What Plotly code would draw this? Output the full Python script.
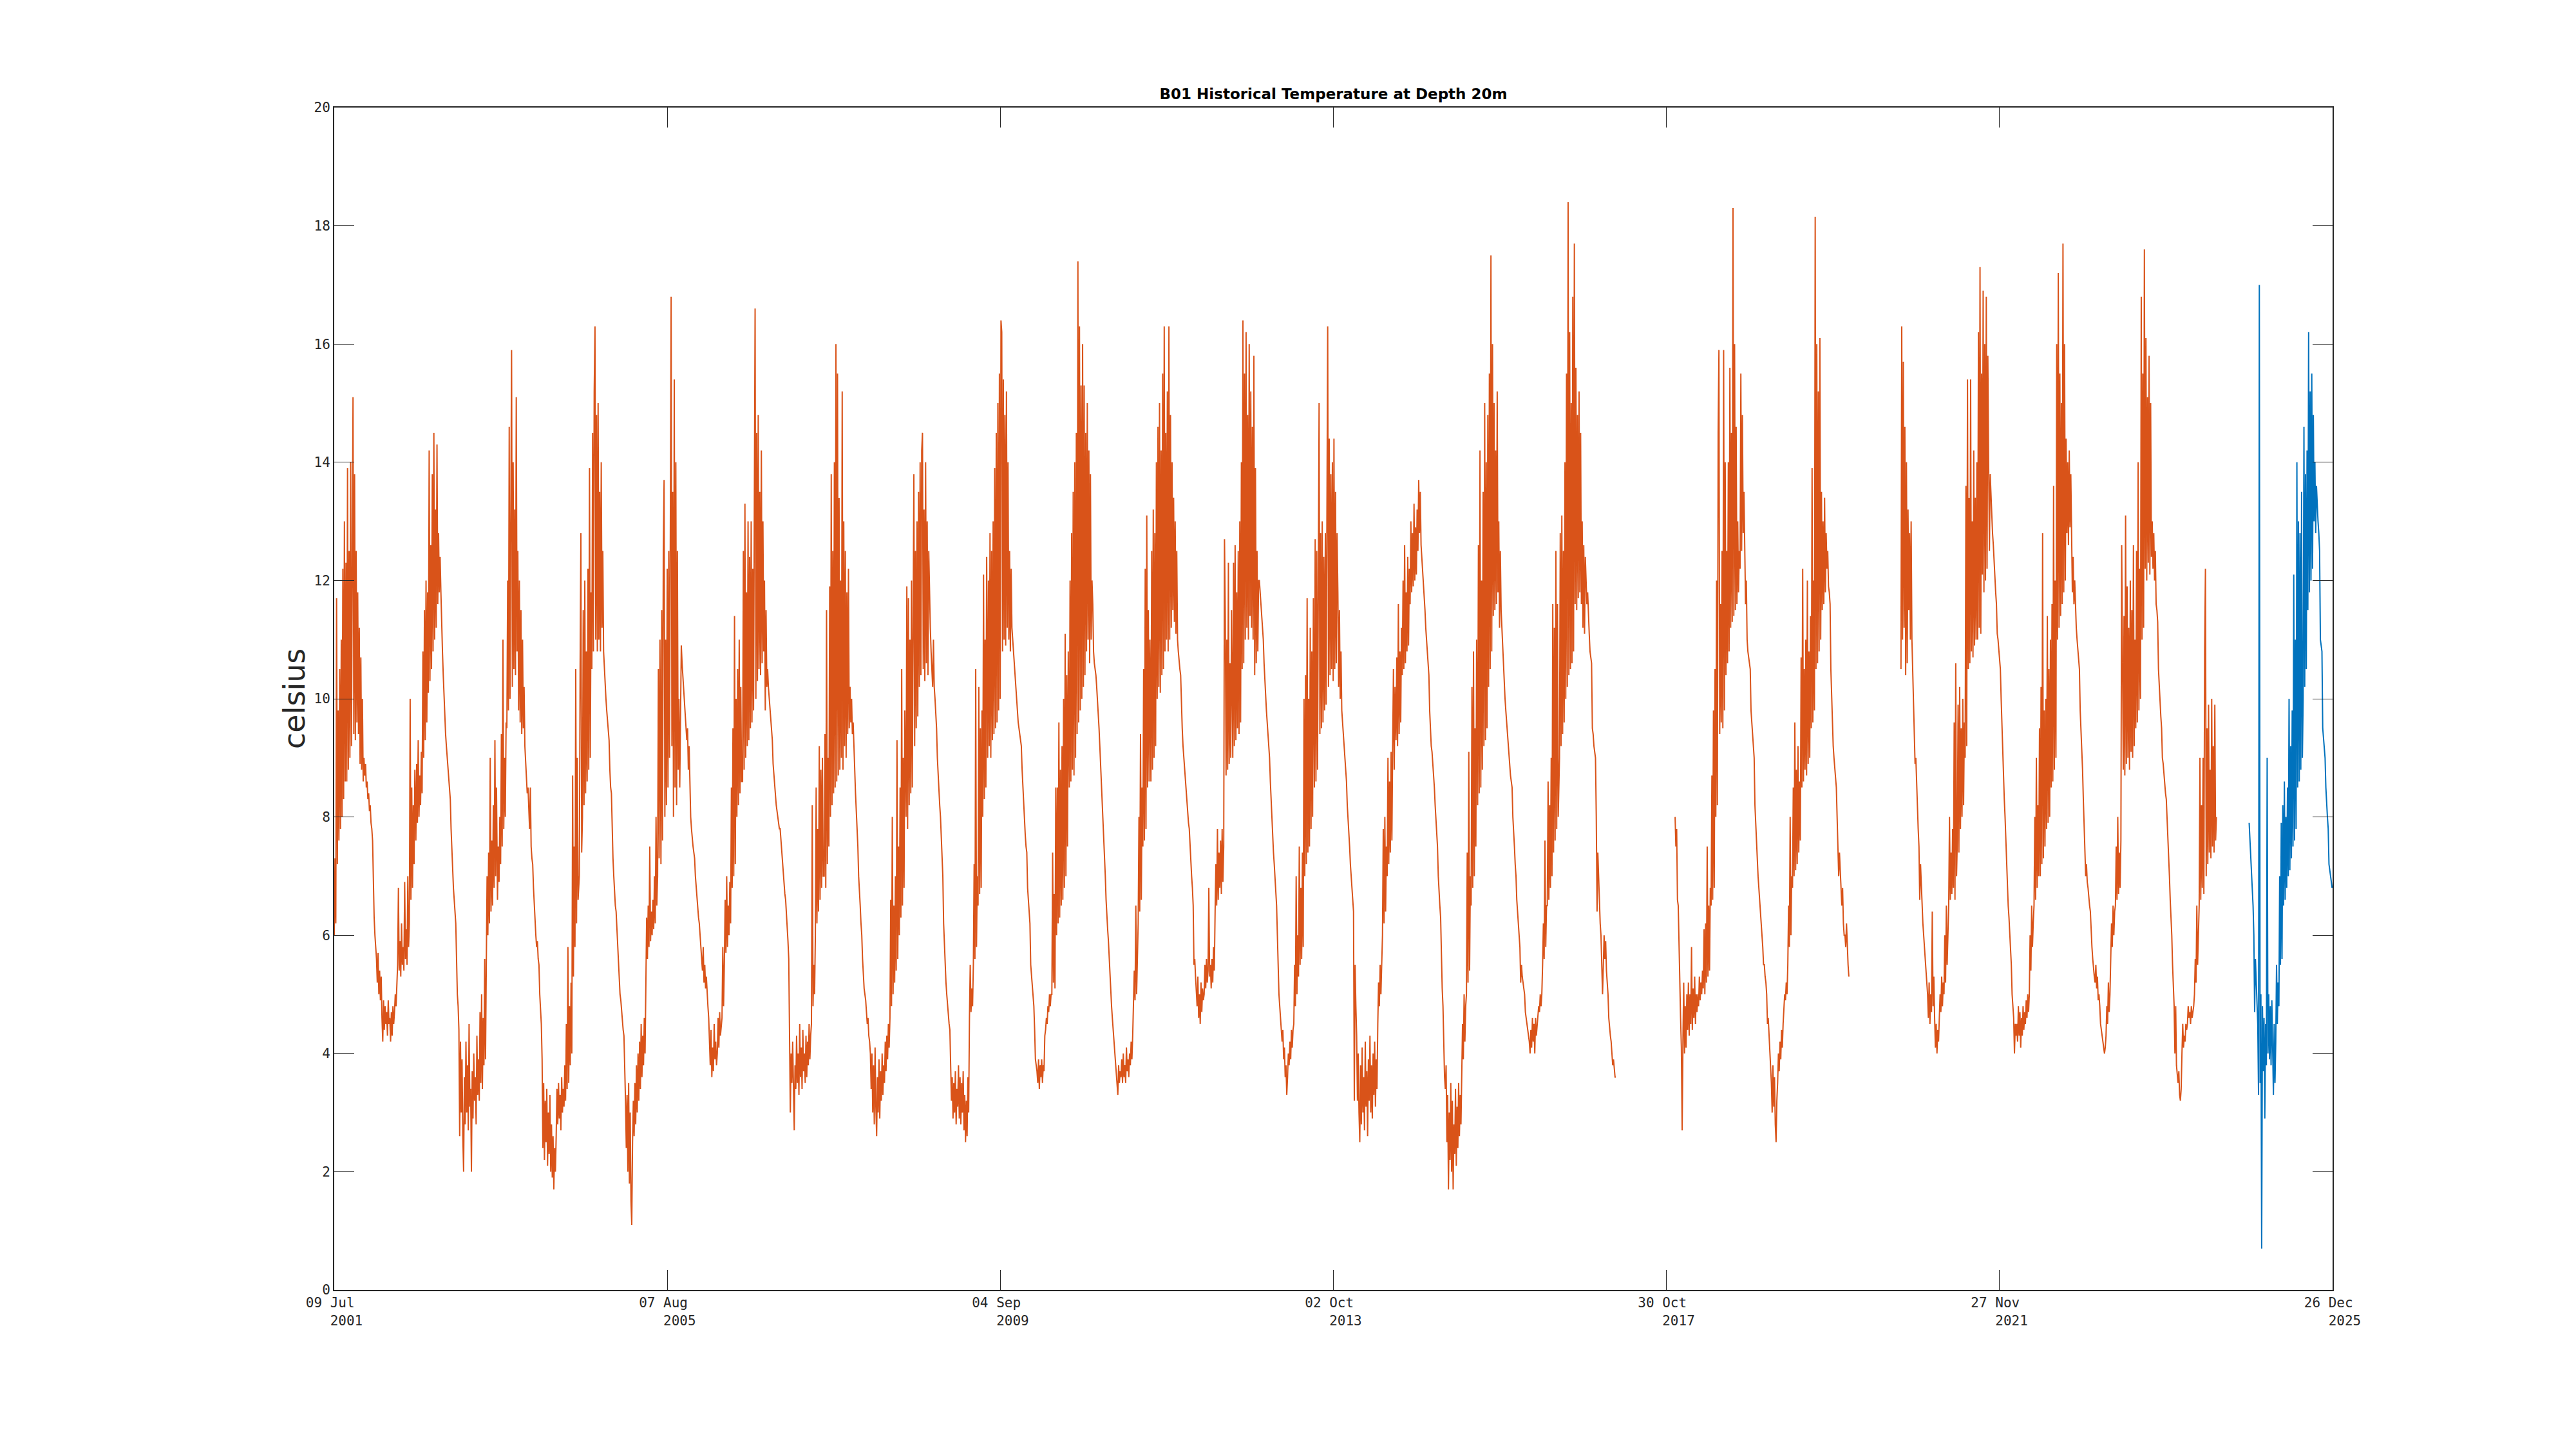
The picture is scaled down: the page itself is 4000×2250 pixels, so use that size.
import pandas as pd
import plotly.graph_objects as go

# ---------------- data (3.5-day spacing) ----------------
T2001 = [6.0, 7.3, 6.2, 11.7, 7.2, 9.8, 7.6, 10.5,
         7.8, 11.0, 8.0, 12.2, 8.3, 13.0, 8.6,
         12.3, 8.6, 13.9, 8.8, 12.5, 9.0, 14.0, 9.2, 13.0, 15.1,
         9.4, 13.8, 9.3, 12.5, 9.6, 11.8,
         9.4, 11.2, 8.9, 10.7, 8.8, 10.0, 8.6,
         9.0, 8.7, 8.9, 8.5, 8.6, 8.3, 8.4, 8.1, 8.2, 7.9, 7.8, 7.6,
         6.9, 6.3, 6.0, 5.8,
         5.6, 5.2, 5.7, 5.0, 5.4, 4.9, 5.3,
         4.6, 4.2, 4.9, 4.4, 4.8, 4.5, 4.7, 4.3, 4.9, 4.5, 4.6,
         4.2, 4.7, 4.3, 4.8, 4.5,
         4.7, 5.0, 4.8, 5.2,
         5.5, 6.8, 5.4, 5.9, 5.3, 6.2, 5.5, 5.8, 5.4, 6.9, 5.6, 6.1, 5.5, 7.0, 5.8, 6.2,
         10.0, 6.6,
         8.5, 6.8, 8.2, 7.2, 8.8]
T2002 = [7.6, 8.9, 7.9, 9.3, 8.0, 8.7, 8.2, 9.1, 8.4,
         10.8, 9.0, 11.5, 9.3, 12.0, 9.6,
         11.8, 10.1, 14.2, 10.3, 12.6,
         10.5, 13.8, 10.8, 14.5, 11.0, 13.2, 11.2, 14.3,
         11.6, 12.8, 11.8, 12.4,
         11.8, 11.2, 10.8, 10.4, 10.0, 9.7,
         9.4, 9.2, 9.0, 8.8, 8.6, 8.4, 8.3,
         7.8, 7.4, 7.0, 6.8,
         6.6, 6.4, 6.2, 5.6, 5.0,
         4.8, 4.4, 2.6, 4.2,
         3.0, 3.9, 2.6, 2.0, 3.6, 2.8, 4.2, 3.0, 3.8, 2.7, 4.5, 3.1, 3.4, 2.0, 3.7, 2.9,
         4.0, 3.2, 3.6, 2.8, 4.3, 3.3, 3.9,
         3.2, 4.7, 3.5, 5.0, 3.4, 4.6, 3.8, 5.6, 3.9,
         5.5, 7.0, 6.0, 7.4, 6.2, 9.0, 6.4, 7.6, 6.5, 8.2, 6.8, 9.3, 7.0, 8.5]
T2003 = [6.6, 7.5, 6.9, 8.0,
         7.2, 9.4, 7.5, 11.0, 7.8, 9.0, 8.0, 9.6,
         9.5, 12.0, 9.8, 14.6, 10.0, 12.5,
         15.9,
         10.2, 14.0, 10.5, 13.2, 10.4, 15.1, 10.8,
         12.5, 9.8, 12.0, 9.6, 11.5, 9.4, 11.0, 9.5, 10.2,
         9.2, 8.9, 8.6, 8.4, 8.5, 8.0, 7.8, 8.5, 7.5, 7.3, 7.2,
         6.8, 6.5, 6.2, 6.0, 5.8, 5.9, 5.6, 5.5,
         5.0, 4.8, 4.5, 3.9,
         2.4, 3.5, 2.2, 3.2, 2.5, 3.4, 2.1, 3.0, 2.3, 3.3, 2.0, 2.8, 1.9, 2.6, 1.7, 2.4, 2.0,
         2.6, 3.4, 2.8, 3.5, 2.9, 3.3, 2.7, 3.6, 3.0, 3.4, 3.1, 3.8,
         3.2, 4.5, 3.4, 5.8, 3.5, 4.8, 3.8, 5.2, 4.0,
         8.7, 5.3, 7.5, 5.8, 10.5, 6.2, 9.0, 6.6]
T2004 = [7.0, 10.5, 12.8, 7.4,
         8.0, 11.5, 8.2, 12.0, 8.4, 10.8, 8.6, 12.2, 8.8, 13.9, 9.0, 11.8,
         10.5, 14.5, 10.8, 15.2, 16.3, 11.0, 14.8, 10.8, 15.0,
         11.0, 13.5, 10.8, 14.0, 11.2, 12.5,
         10.8, 10.5, 10.2, 10.0, 9.8, 9.6, 9.4, 9.3,
         8.8, 8.5, 8.4, 7.8, 7.3, 7.0,
         6.7, 6.5, 6.4, 6.1,
         5.8, 5.5, 5.3, 5.0, 4.9,
         4.7, 4.5, 4.4, 4.3, 3.8, 3.2,
         2.4, 3.3, 2.0, 3.5, 1.8, 3.0, 1.5, 1.1, 2.5,
         3.2, 2.6, 3.5, 2.8, 3.8, 3.0, 4.0, 3.2, 4.2, 3.4, 4.5, 3.6, 4.3, 3.8, 4.6, 4.0,
         5.5, 6.3, 5.6, 6.5, 5.8, 7.5, 5.9, 6.4, 6.0, 6.6, 6.1, 7.0,
         6.2, 8.0, 6.5,
         7.0, 10.5, 7.3, 11.0]
T2005 = [7.2, 11.5, 7.6, 12.5, 13.7, 8.0, 11.0, 8.2, 12.2, 8.5, 12.5,
         9.0, 14.5, 16.8, 9.2,
         13.5, 8.0, 15.4, 8.5, 14.0, 8.2, 12.5, 8.8,
         10.0, 8.5, 10.2,
         10.9, 10.6, 10.4, 10.1, 9.9, 9.7, 9.5, 9.3,
         9.5, 8.8, 9.2, 8.5,
         8.0, 7.8, 7.6, 7.5, 7.4, 7.3,
         7.0, 6.8, 6.6, 6.5, 6.3, 6.2, 6.0, 5.8,
         5.6, 5.4, 5.8, 5.2, 5.5, 5.1, 5.3, 5.0, 4.8,
         4.6, 4.2, 3.8, 4.4, 3.6, 4.1, 3.7, 4.5, 3.9, 4.2, 3.8,
         4.0, 4.6, 4.1, 4.7, 4.3, 4.5, 4.6,
         5.8, 4.8,
         5.5, 6.6, 5.7, 7.0, 5.8, 6.5, 6.0, 6.9, 6.2,
         8.5, 6.8, 9.5, 7.0, 11.4, 7.2, 10.0,
         8.0, 10.5, 8.2, 11.0, 8.4, 10.2, 8.6]
T2006 = [8.6, 12.5, 8.8, 13.3, 9.0, 11.8, 9.2, 13.0, 9.3,
         12.4, 9.5, 13.0, 9.6, 12.2, 9.8, 13.2,
         16.6, 10.0, 14.5, 10.3,
         14.8, 10.5, 13.5, 10.4, 14.2, 10.6, 13.0, 10.8,
         12.0, 9.8, 11.5, 10.2,
         10.5, 10.2, 10.0, 9.8, 9.6, 9.4, 9.3,
         8.9, 8.7, 8.5,
         8.3, 8.2, 8.1, 8.0, 7.9, 7.8, 7.8,
         7.6, 7.4, 7.2, 7.0, 6.9, 6.7, 6.6, 6.4, 6.2, 5.9,
         5.6, 4.3, 3.0, 4.0,
         3.5, 4.2, 3.3, 2.7, 3.8, 3.4, 4.3, 3.5, 4.0, 3.3, 4.5, 3.6, 4.1, 3.4, 4.4, 3.7,
         4.0, 3.5, 4.3, 3.6, 4.2, 3.8, 4.5, 3.9, 4.3,
         4.5, 8.2, 4.8, 5.5, 5.0,
         6.0, 8.5, 6.2, 7.8, 6.4,
         9.2, 6.6, 8.8, 6.8, 9.0, 7.0]
T2007 = [7.0, 9.4, 6.8, 11.5, 7.2, 9.0, 7.5,
         11.9, 8.0, 13.8, 8.2, 12.5, 8.4, 14.0, 8.5, 16.0, 8.6,
         15.5,
         8.7, 13.4, 8.8, 12.0, 9.0, 15.2, 8.8, 13.0, 9.2, 12.5, 9.0, 11.8, 9.4, 12.2, 9.5,
         10.2, 9.6, 10.0, 9.4, 9.6, 9.2,
         8.6, 8.4, 8.1, 7.8, 7.5,
         7.0, 6.8, 6.5, 6.2, 6.0,
         5.6, 5.3, 5.1, 5.0,
         4.9, 4.7, 4.5, 4.6, 4.3, 4.2, 4.0,
         3.4, 4.0, 3.0, 3.8, 2.8, 4.1, 3.1, 2.6, 3.6, 3.0, 3.9, 2.9, 3.7, 3.2, 4.0, 3.3, 3.8,
         3.5, 4.2, 3.7, 4.3, 3.9, 4.5, 4.1, 4.6,
         6.6,
         4.8, 8.0, 5.0, 6.5, 5.2, 7.0, 5.4, 9.3, 5.6, 7.5,
         6.0, 8.5, 6.3, 10.5, 6.5, 9.0, 6.8, 9.8]
T2008 = [8.0, 11.9, 7.8, 11.7, 8.2, 11.0, 8.4, 12.0, 8.5, 11.2,
         13.8, 9.2, 12.5, 9.5, 13.0, 9.7,
         13.5, 10.2, 14.0, 10.4, 14.2, 14.5, 10.5, 13.2, 10.3, 14.0, 10.6, 13.0, 10.4,
         12.5, 11.6, 11.2, 10.8, 10.5, 10.2,
         11.0, 10.2, 10.0, 9.8, 9.5,
         9.0, 8.7, 8.5, 8.2, 8.0,
         7.6, 7.3, 7.0,
         6.2, 5.8, 5.6,
         5.2, 5.0, 4.8, 4.6, 4.5, 4.4,
         3.8, 3.2, 3.6, 2.9, 3.5, 3.0, 3.7, 2.8, 3.4, 3.1, 3.8, 2.9, 3.6, 2.8, 3.5, 3.0,
         3.7, 2.7, 3.3, 2.5, 3.2, 2.6, 3.6, 3.0,
         4.6, 5.5, 4.7, 5.1, 4.8,
         5.5, 7.2, 5.6, 10.5, 5.8, 7.0,
         6.5, 10.2, 6.7, 9.5, 6.8, 9.8,
         8.0, 12.1, 8.3, 11.0, 8.5, 12.4]
T2009 = [9.0, 12.0, 9.2, 12.8, 9.0, 12.5, 9.3, 13.0, 9.4, 13.9,
         9.5, 14.5, 9.6, 15.0, 9.8, 15.5, 10.0, 16.4,
         16.2, 10.8, 15.4, 11.0, 14.8, 10.9, 15.2, 11.2, 14.0,
         11.0, 12.5, 10.8, 12.2, 11.2,
         11.0, 10.7, 10.5, 10.3, 10.1, 9.9,
         9.8, 9.6, 9.5, 9.4, 9.3, 9.2,
         8.8, 8.5, 8.2, 8.0, 7.7, 7.5, 7.4,
         6.8, 6.6, 6.4, 6.2,
         5.5, 5.3, 5.1, 4.9, 4.8,
         4.4, 3.9, 3.8,
         3.7, 3.5, 3.9, 3.4, 3.8, 3.6, 3.9, 3.5, 3.8, 3.7,
         4.3, 4.4, 4.6, 4.5, 4.8, 4.7, 5.0, 4.8, 5.0,
         5.0, 7.4, 5.2, 6.7, 5.1, 8.5,
         6.0, 8.5, 6.2, 9.6, 6.3, 8.8, 6.5, 9.2, 6.6, 10.0, 6.8, 11.1, 7.0,
         10.4, 7.5, 10.8]
T2010 = [8.5, 12.0, 8.6, 12.8, 8.8, 13.5, 8.7, 14.0, 9.0,
         14.5, 9.4, 17.4, 9.6, 16.3, 9.8, 15.3, 10.0, 16.0, 10.2,
         15.3, 10.4, 14.5, 10.8, 15.0, 11.0, 14.2, 10.6, 13.8,
         11.0, 12.0, 11.6,
         10.8, 10.6, 10.5, 10.4, 10.2, 10.0, 9.8,
         9.5, 9.2, 8.9, 8.6,
         8.2, 8.0, 7.6, 7.3, 7.0,
         6.6, 6.3, 6.1, 5.9, 5.6, 5.4,
         5.0, 4.8, 4.6, 4.4, 4.2,
         4.0, 3.8, 3.6, 3.5, 3.3, 3.8, 3.5, 3.7,
         3.6, 3.9, 3.5, 4.0, 3.6, 3.8, 3.5, 4.1, 3.7, 3.9, 3.6, 4.0, 3.8, 4.2, 3.9, 4.3,
         4.8, 5.4, 4.9, 6.5, 5.0, 5.6,
         6.2, 8.0, 6.4, 9.4, 6.6, 8.5,
         7.5, 10.5, 7.6, 12.2, 7.8, 13.1,
         8.5, 11.5, 8.6, 11.0]
T2011 = [8.6, 12.5, 8.8, 13.2, 9.0, 12.8, 9.2, 14.0,
         10.0, 14.6, 10.2, 15.0, 10.1, 14.2, 10.4, 15.5, 10.5, 16.3,
         10.8, 14.5, 11.0, 15.2, 10.8, 16.3, 11.0, 14.8, 11.2, 14.0,
         11.5, 13.4, 11.3, 13.0, 11.1, 12.5,
         11.0, 10.8, 10.6, 10.5, 10.4,
         9.8, 9.5, 9.2, 9.0, 8.8, 8.6,
         8.5, 8.3, 8.1, 7.9, 7.8,
         7.5, 7.2, 7.0, 6.8, 6.5,
         5.5, 5.6, 5.3, 5.1,
         4.8, 5.3, 4.6, 5.0, 4.5, 5.2, 4.7, 5.1, 4.9,
         5.0, 5.5, 5.1, 5.6, 5.2, 5.4, 6.8, 5.3, 5.5, 5.1, 5.6, 5.2, 5.8, 5.4,
         6.4, 7.2, 6.5, 7.8, 6.6, 7.4, 6.8, 7.6, 6.7, 7.8, 6.9, 7.5,
         12.7, 11.4,
         8.7, 11.0, 8.8, 12.3, 8.9, 10.6, 9.0, 11.5]
T2012 = [9.0, 12.3, 9.2, 12.6, 9.3, 11.8, 9.5, 12.5, 9.4, 13.0, 9.6,
         14.0, 10.5, 16.4, 10.6,
         15.5, 11.0, 16.2, 11.2, 14.8, 11.0, 16.0, 11.4, 15.2, 11.2, 14.6, 11.0, 15.8,
         10.4, 13.9, 10.6,
         12.5, 10.8, 12.0,
         12.0, 11.8, 11.6, 11.4, 11.2, 11.0,
         10.6, 10.3, 10.0,
         9.8, 9.6, 9.4, 9.2, 9.0,
         8.6, 8.3, 8.0,
         7.6, 7.4, 7.2, 7.0, 6.8,
         6.5, 6.0,
         5.3, 5.0, 4.8, 4.6,
         4.5, 4.2, 4.4, 3.9, 4.1, 3.6, 3.8, 3.3,
         3.6, 4.0, 3.8, 4.2, 3.9, 4.4, 4.1, 4.4,
         4.5, 5.5, 4.8, 7.0, 5.0, 6.0,
         5.3, 7.5, 5.5, 6.8, 5.6, 7.4, 5.8, 10.0,
         7.0, 10.4, 7.2, 11.7, 7.4, 10.0, 7.5, 11.2, 7.8, 10.8,
         8.0, 11.7]
T2013 = [8.5, 12.7, 8.6, 12.5, 8.8, 12.0, 15.0,
         9.4, 12.8, 9.5, 13.0, 9.6, 12.4, 9.8, 12.8, 9.9, 13.2,
         16.3,
         10.2, 14.4, 10.4, 13.8, 10.5, 14.0, 10.3, 14.4, 10.5, 13.5, 10.6, 12.8,
         11.8, 10.2, 11.5, 10.0, 10.8,
         9.8, 9.6, 9.4, 9.2, 9.0, 8.8, 8.6,
         8.2, 8.0, 7.8, 7.5,
         7.2, 7.0, 6.8, 6.6, 6.4,
         3.2, 5.5, 4.8,
         4.3, 3.2, 4.0, 3.0, 2.5, 3.8, 2.8, 4.1, 3.0, 3.6, 2.7, 4.2, 3.1, 3.7,
         2.6, 3.9, 3.2, 4.3, 3.0, 3.8, 2.9, 4.0, 3.3, 4.2, 3.1, 3.9, 3.4,
         4.5, 5.2, 4.8, 5.5, 5.0, 5.4,
         6.0, 7.8, 6.2, 8.0, 6.4, 7.5,
         7.0, 9.0, 7.2, 8.6, 7.4, 9.1, 7.6,
         9.2, 10.5, 8.8, 10.2]
T2014 = [9.3, 10.7, 9.2, 11.6, 9.4, 10.8, 9.6, 11.2,
         10.4, 12.0, 10.5, 12.6, 10.6, 11.8, 10.8, 12.4, 10.9, 12.2,
         11.6, 13.0, 11.8, 12.8, 11.9, 13.3, 12.0, 12.9, 12.1,
         13.2, 12.5, 13.7, 12.8, 13.5, 12.6,
         12.4, 12.2, 11.9, 11.7, 11.5,
         11.2, 11.0, 10.8, 10.6, 10.4,
         9.8, 9.5, 9.2, 9.1, 8.9, 8.8,
         8.5, 8.2, 8.0, 7.7, 7.5,
         7.0, 6.7, 6.5, 6.3,
         5.5, 5.1, 4.8,
         4.0, 3.6, 3.4, 3.8,
         2.5, 3.3, 1.7, 3.0, 2.2, 3.5, 2.0, 3.2, 1.7, 2.8, 2.3, 3.4, 2.1, 3.1, 2.4, 3.5,
         2.6, 3.3, 2.8,
         3.6, 4.5, 3.9, 5.0, 4.2, 4.8,
         5.0, 7.4, 5.2, 9.1, 5.4, 7.0,
         6.5, 10.2, 6.8, 10.8, 7.0, 9.5,
         7.5, 11.0]
T2015 = [8.2, 12.6, 8.4, 14.2, 8.5, 12.0, 8.8,
         13.5, 9.2, 15.0, 9.3, 14.0, 9.5, 14.8,
         10.2, 15.5, 10.5, 17.5, 10.8, 16.0,
         11.4, 15.0, 11.5, 14.2, 11.6, 15.2, 11.8,
         13.0, 11.2, 12.5,
         11.5, 11.2, 10.8, 10.5,
         10.2, 10.0, 9.8, 9.6, 9.5,
         9.2, 9.0, 8.9, 8.7, 8.6, 8.5,
         8.0, 7.8, 7.5, 7.2, 7.0,
         6.6, 6.4, 6.2, 6.0, 5.8,
         5.2, 5.5, 5.3, 5.2, 5.1, 5.0,
         4.7, 4.6, 4.5, 4.4, 4.3, 4.2, 4.0,
         4.4, 4.1, 4.6, 4.2, 4.5, 4.0, 4.6, 4.3, 4.5,
         4.6, 4.8, 4.7, 5.0, 4.8, 5.0,
         5.5, 6.2, 5.6, 7.6, 5.8, 6.5,
         6.5, 8.6, 6.6, 8.2, 6.8, 9.0, 7.0,
         11.6, 7.4, 11.2, 7.6, 12.5, 7.8, 11.6, 8.0]
T2016 = [9.0, 12.8, 9.2, 13.1, 9.4, 12.5, 9.6,
         14.0, 10.0, 15.5, 10.2, 18.4, 10.4,
         16.2, 10.5, 15.0, 10.6, 16.8, 10.8, 17.7,
         11.6, 15.6, 11.5, 14.8, 11.7, 15.2, 11.8, 14.5, 11.6,
         13.0, 11.2, 12.6, 11.1, 12.4,
         12.0, 11.6, 11.8, 11.3, 11.1,
         10.8, 10.7, 10.6,
         9.5, 9.4, 9.2, 9.1, 9.0,
         8.0, 6.4, 7.4,
         7.0, 6.5, 6.2,
         6.0, 5.4, 5.0,
         5.5, 6.0, 5.6, 5.9, 5.4, 5.2, 5.0,
         4.6, 4.4, 4.3, 4.2,
         4.0, 3.8, 3.9, 3.7, 3.6, 3.6]

# second orange record: starts 2017-12-08
T2017_2020 = [8.0, 7.5, 7.8, 6.6, 6.5, 5.8, 5.0, 4.6, 4.1, 2.7,
              4.2, 5.2, 4.0, 4.8, 4.1, 5.0,
              4.4, 5.2, 4.3, 5.0, 4.5, 5.8, 4.4, 5.1, 4.6, 5.3, 4.5, 5.0, 4.7,
              5.0, 4.8, 5.3, 4.9, 5.2, 5.0, 5.4, 5.1, 6.1,
              5.0, 6.2, 5.2, 7.5, 5.3, 6.5, 5.4, 6.8,
              6.5, 8.7, 6.6, 9.8, 6.8,
              10.5, 8.0, 12.0, 8.2, 14.5,
              15.9, 9.4, 11.6, 9.6, 12.5, 9.5, 15.9, 9.8,
              14.0, 10.4, 12.5, 10.6, 14.0, 10.8,
              15.6, 11.2, 14.5, 11.3, 18.3, 11.4, 16.0, 11.5,
              14.6, 11.6, 13.0, 11.8, 12.5, 12.2,
              15.5, 12.5, 14.8, 12.8, 13.5,
              12.5, 11.6, 12.0,
              11.0, 10.8, 10.7, 10.6, 10.5,
              9.8, 9.6, 9.4, 9.2, 9.0,
              8.2, 7.9, 7.5,
              7.2, 7.0, 6.8, 6.6,
              6.5, 6.2, 6.0, 5.8, 5.5,
              5.5, 5.3, 5.2, 5.0, 4.5,
              4.6, 4.3, 4.0, 3.8,
              3.5, 3.0, 3.8, 3.1, 3.6, 2.8, 2.5, 3.2,
              3.5, 4.0, 3.7, 4.2, 3.9, 4.4, 4.1, 4.5,
              4.8, 5.0, 4.9, 5.2, 5.0,
              5.5, 6.5, 5.8, 8.0, 6.0, 7.0,
              6.8, 8.5, 7.0, 9.6, 7.1, 8.8, 7.2, 9.2, 7.4, 8.6, 7.6,
              10.7, 8.5, 12.2, 8.6, 10.5, 8.8, 11.0, 8.7, 12.0, 8.9, 10.8, 9.0, 11.4,
              9.5, 13.9, 9.6, 12.0, 9.8,
              18.15,
              10.5, 16.0, 10.6, 15.2, 10.8, 16.1, 11.0,
              13.5, 11.5, 13.0, 11.6, 13.4, 11.8,
              12.8, 12.2, 12.5, 11.9, 11.8, 11.6,
              10.5, 10.0, 9.5,
              9.2, 9.0, 8.8, 8.6, 8.5,
              8.0, 7.6, 7.0, 7.4, 7.0,
              6.8, 6.5, 6.8, 6.2, 6.0,
              6.0, 5.8, 6.2, 5.7, 5.5, 5.3]

# third orange record: starts 2020-09-13
T2020_2024 = [10.5, 16.3, 11.0, 15.7, 11.2, 14.6, 10.4, 14.0, 10.6,
              13.2, 11.5, 12.8, 11.0, 13.0,
              11.0, 10.5, 10.0, 9.5, 8.9, 9.0, 8.5, 8.2,
              7.8, 7.5, 6.6, 7.2, 6.8, 6.4, 6.2, 6.0, 5.8,
              5.5, 5.3, 5.1, 5.0,
              4.6, 5.2, 4.5, 5.0, 4.7, 6.4, 4.8, 5.3,
              4.6, 4.1, 4.5, 4.0, 4.4, 4.2,
              4.6, 5.0, 4.7, 5.3, 4.8, 5.2,
              5.0, 6.0, 5.2, 6.5, 5.5, 6.2,
              6.5, 8.0, 6.6, 7.4, 6.7, 7.8, 6.8,
              9.6, 6.6, 10.6, 7.0,
              7.6, 9.9, 7.4, 10.2, 7.8, 9.5, 8.0, 10.0, 8.2, 9.6,
              9.0, 13.6, 9.2,
              15.4, 10.5, 13.4, 10.6, 15.4, 10.8, 13.0, 10.7, 14.2, 10.9, 13.4, 11.0, 14.0,
              11.0, 16.2, 11.2, 17.3, 11.1, 15.5,
              12.1, 16.9, 11.8, 16.0, 12.0, 16.8, 12.2, 15.8,
              14.0, 12.5, 13.8,
              13.4, 13.0, 12.8,
              12.6, 12.3, 12.0, 11.8, 11.6,
              11.1, 11.0, 10.8, 10.7, 10.5,
              10.0, 9.5, 9.0, 8.5,
              8.3, 8.0, 7.6, 7.3, 7.0,
              6.5, 6.3, 6.0, 5.8, 5.5,
              5.0, 4.8, 4.6, 4.0, 4.5, 4.3,
              4.5, 4.2, 4.8, 4.3, 4.7, 4.1, 4.6, 4.3, 4.8, 4.4, 4.7, 4.5, 4.9, 4.6, 5.0, 4.7,
              5.0, 6.0, 5.4, 6.5, 5.8, 6.2,
              6.5, 8.0, 6.6, 9.0, 6.8, 8.2, 7.0,
              9.5, 7.0, 10.2, 7.2, 12.8, 7.3, 9.8, 7.5, 10.0,
              7.8, 11.4, 7.9, 10.5, 8.0, 11.0,
              8.5, 11.6, 8.6, 13.6, 8.8, 12.0, 9.0,
              16.0, 11.0, 17.2, 11.2, 15.5, 11.4,
              15.0, 11.6, 17.7, 11.8, 16.0, 12.0,
              14.4, 12.8, 14.0, 12.6, 14.2, 12.9, 13.8,
              12.5, 11.8, 12.4, 11.6, 12.0, 11.5,
              11.2, 11.0, 10.8, 10.6, 10.5,
              9.8, 9.5, 9.2, 8.8,
              8.3, 7.8, 7.4, 7.0,
              7.2, 6.9, 6.8, 6.6, 6.5, 6.4,
              6.0, 5.8, 5.6, 5.4, 5.3, 5.2,
              5.5, 5.1, 5.3, 4.9, 5.0, 4.8,
              4.5, 4.4, 4.3, 4.2, 4.1, 4.0, 4.1,
              4.3, 4.8, 4.5, 5.2, 4.7, 5.0,
              5.5, 6.2, 5.8, 6.5, 6.0, 6.4,
              6.5, 7.5, 6.6, 8.0, 6.7, 7.4, 6.8, 7.6,
              12.6, 11.0,
              8.8, 11.4, 8.7, 13.1, 8.9, 11.9, 9.0, 11.2, 8.8, 12.0, 9.1, 11.5, 9.0, 12.6, 9.2, 11.0,
              9.5, 12.5, 9.6, 14.0, 9.8, 12.2, 10.0,
              16.8, 11.0, 15.5, 11.2, 17.6,
              12.2, 16.1, 12.0, 15.1, 12.3, 15.8, 12.1, 15.0, 12.4,
              13.0, 12.2, 12.8, 12.0, 12.5,
              11.6, 11.5, 11.3,
              10.5, 10.2, 9.9, 9.7, 9.5,
              9.0, 8.9, 8.7, 8.6, 8.4, 8.3,
              8.0, 7.7, 7.4,
              7.0, 6.6, 6.3, 6.0,
              5.5, 5.1, 4.8,
              4.0, 4.8, 3.8, 3.6, 3.5, 3.7,
              3.3, 3.2, 3.4,
              4.0, 4.5, 4.1, 4.3, 4.2, 4.5, 4.4,
              4.5, 4.8, 4.6, 4.7, 4.5, 4.8, 4.6, 4.7, 4.8,
              5.0, 5.6, 5.2, 6.5, 5.5, 6.0,
              6.5, 9.0, 6.6, 8.2, 6.8, 9.0, 6.7,
              10.8, 12.2, 7.0,
              9.5, 7.2, 9.9, 7.4, 8.8, 7.3, 10.0, 7.5, 9.2, 7.4, 9.9, 7.6, 8.0]

# recent record (blue): starts 2024-12-18
T_RECENT = [7.9, 7.6, 7.3, 7.0, 6.8, 6.5, 6.0, 4.7, 5.6, 5.2, 4.8, 4.5,
            3.3, 17.0, 3.5, 5.0, 0.7,
            4.8, 3.7, 4.6, 2.9, 4.5, 3.8, 9.0,
            4.0, 5.0, 3.9, 4.8, 3.8, 4.9, 4.1,
            3.3, 4.5, 3.5,
            4.2, 5.5, 4.5, 5.2, 4.8,
            7.0, 5.5, 7.9, 5.6, 8.2,
            6.5, 8.6, 6.6, 8.0, 6.8, 8.5,
            7.0, 10.0, 7.1, 9.2, 7.3, 9.8,
            7.5, 12.1, 7.6, 11.0, 7.8, 14.0,
            8.5, 13.0, 8.6, 12.8, 8.8, 13.5, 9.0,
            10.0, 14.6, 10.2, 13.8, 10.5, 14.2,
            11.5, 16.2, 11.8,
            15.2, 12.0, 15.5, 12.2, 14.8,
            13.0, 14.0, 12.8, 13.6, 13.2,
            13.0, 12.8, 12.5,
            11.0, 10.9, 10.8,
            9.5, 9.3, 9.1, 9.0,
            8.5, 8.2, 8.0, 7.8,
            7.2, 7.1, 7.0, 6.9, 6.8]

STEP = "84h"  # 3.5 days between readings

HIST_YEARS = [(2001, T2001), (2002, T2002), (2003, T2003), (2004, T2004),
              (2005, T2005), (2006, T2006), (2007, T2007), (2008, T2008),
              (2009, T2009), (2010, T2010), (2011, T2011), (2012, T2012),
              (2013, T2013), (2014, T2014), (2015, T2015), (2016, T2016)]
ORANGE_RECORDS = [("2017-12-08", T2017_2020), ("2020-09-13", T2020_2024)]
BLUE_START = "2024-12-18"

XTICK_VALS = ["2001-07-09", "2005-08-07", "2009-09-04", "2013-10-02",
              "2017-10-30", "2021-11-27", "2025-12-26"]
XTICK_DM = ["09 Jul", "07 Aug", "04 Sep", "02 Oct", "30 Oct", "27 Nov", "26 Dec"]
XTICK_Y = ["2001", "2005", "2009", "2013", "2017", "2021", "2025"]
YTICKS = list(range(0, 21, 2))

ORANGE = "#D95319"
BLUE = "#0072BD"
AX = "#262626"
NB = "\u00a0"

# ---------------- build traces ----------------
ox, oy = [], []
for yr, vals in HIST_YEARS:
    d = pd.date_range(f"{yr}-07-09", periods=len(vals), freq=STEP)
    ox += list(d)
    oy += list(vals)
for start, vals in ORANGE_RECORDS:
    ox.append(None)
    oy.append(None)
    d = pd.date_range(start, periods=len(vals), freq=STEP)
    ox += list(d)
    oy += list(vals)

bx = list(pd.date_range(BLUE_START, periods=len(T_RECENT), freq=STEP))

fig = go.Figure()
fig.add_trace(go.Scatter(x=ox, y=oy, mode="lines", connectgaps=False,
                         line=dict(color=ORANGE, width=2), showlegend=False))
fig.add_trace(go.Scatter(x=bx, y=T_RECENT, mode="lines",
                         line=dict(color=BLUE, width=2), showlegend=False))

ticktext = [f"{dm}{NB}<br>{NB*3}{y}" for dm, y in zip(XTICK_DM, XTICK_Y)]

axis_common = dict(showline=True, linecolor=AX, linewidth=2, mirror="ticks",
                   ticks="inside", ticklen=31, tickwidth=1.2, tickcolor=AX,
                   showgrid=False, zeroline=False,
                   tickfont=dict(family="DejaVu Sans Mono", size=21, color=AX))

fig.update_layout(
    width=4000, height=2250,
    paper_bgcolor="white", plot_bgcolor="white",
    margin=dict(l=511, r=386, t=159, b=255),
    title=dict(text="<b>B01 Historical Temperature at Depth 20m</b>",
               x=0.5, xanchor="center", xref="paper",
               y=1 - 138 / 2250, yanchor="middle", yref="container",
               font=dict(family="DejaVu Sans", size=23, color="black")),
    xaxis=dict(type="date", range=[XTICK_VALS[0], XTICK_VALS[-1]],
               tickmode="array", tickvals=XTICK_VALS, ticktext=ticktext,
               **axis_common),
    yaxis=dict(range=[0, 20], tickmode="array", tickvals=YTICKS,
               ticktext=[str(v) for v in YTICKS], **axis_common),
    annotations=[dict(text="celsius", x=-0.02, y=0.5, xref="paper", yref="paper",
                      xanchor="center", yanchor="middle", textangle=-90,
                      showarrow=False,
                      font=dict(family="DejaVu Sans", size=46, color=AX))],
)

fig.write_html("out.html")
